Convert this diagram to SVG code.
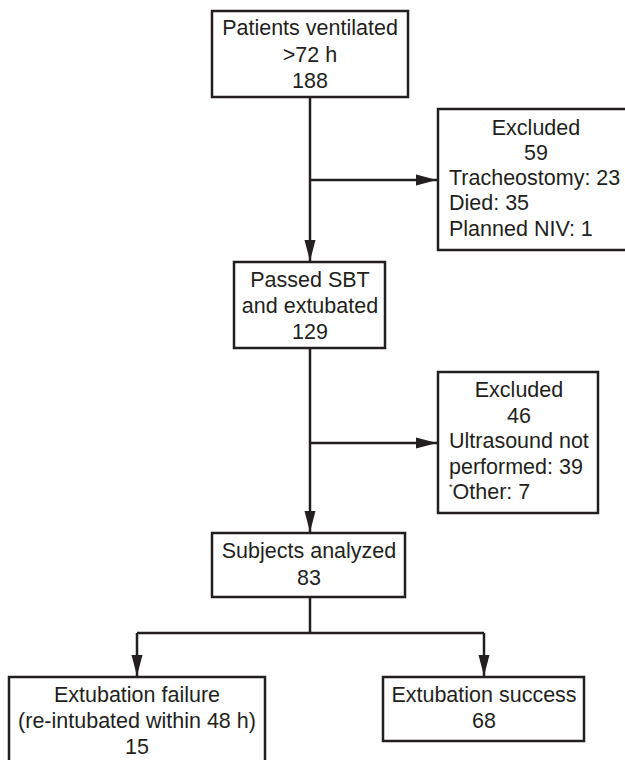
<svg xmlns="http://www.w3.org/2000/svg" width="625" height="760" viewBox="0 0 625 760">
<style>
.box{fill:#fff;stroke:#231f20;stroke-width:2.5}
.ln{fill:none;stroke:#231f20;stroke-width:2.5}
text{font-family:"Liberation Sans",Arial,sans-serif;font-size:21.5px;fill:#231f20}
.c{text-anchor:middle}
.sup{font-size:9px}
</style>
<defs>
<marker id="ah" markerUnits="userSpaceOnUse" markerWidth="22" markerHeight="12" viewBox="0 0 22 12" refX="21" refY="6" orient="auto">
<polygon points="0,0.5 21,6 0,11.5" fill="#231f20"/>
</marker>
</defs>
<rect width="625" height="760" fill="#fff"/>
<g id="connectors">
<line class="ln" x1="310" y1="97" x2="310" y2="261" marker-end="url(#ah)"/>
<line class="ln" x1="310" y1="180" x2="437" y2="180" marker-end="url(#ah)"/>
<line class="ln" x1="310" y1="348" x2="310" y2="532" marker-end="url(#ah)"/>
<line class="ln" x1="310" y1="443" x2="437" y2="443" marker-end="url(#ah)"/>
<polyline class="ln" points="310,597 310,633"/>
<polyline class="ln" points="137,633 484,633"/>
<line class="ln" x1="137" y1="633" x2="137" y2="676" marker-end="url(#ah)"/>
<line class="ln" x1="484" y1="633" x2="484" y2="676" marker-end="url(#ah)"/>
</g>
<g id="n-start">
<rect class="box" x="212" y="11" width="196" height="86"/>
<text class="c" x="310" y="35">Patients ventilated</text>
<text class="c" x="310" y="62">&gt;72 h</text>
<text class="c" x="310" y="88">188</text>
</g>
<g id="n-excluded1">
<rect class="box" x="438" y="109" width="196" height="141"/>
<text class="c" x="536" y="135">Excluded</text>
<text class="c" x="536" y="160">59</text>
<text x="449" y="185">Tracheostomy: 23</text>
<text x="449" y="210">Died: 35</text>
<text x="449" y="236">Planned NIV: 1</text>
</g>
<g id="n-passed">
<rect class="box" x="234" y="262" width="151" height="86"/>
<text class="c" x="310" y="287">Passed SBT</text>
<text class="c" x="310" y="313">and extubated</text>
<text class="c" x="310" y="339">129</text>
</g>
<g id="n-excluded2">
<rect class="box" x="438" y="372" width="160" height="141"/>
<text class="c" x="519" y="397">Excluded</text>
<text class="c" x="519" y="423">46</text>
<text x="449" y="448">Ultrasound not</text>
<text x="449" y="474">performed: 39</text>
<text x="449" y="499"><tspan class="sup" dy="-9">*</tspan><tspan dy="9">Other: 7</tspan></text>
</g>
<g id="n-analyzed">
<rect class="box" x="212" y="533" width="193" height="64"/>
<text class="c" x="309" y="558">Subjects analyzed</text>
<text class="c" x="309" y="585">83</text>
</g>
<g id="n-failure">
<rect class="box" x="9" y="677" width="256" height="95"/>
<text class="c" x="137" y="702">Extubation failure</text>
<text class="c" x="137" y="728">(re-intubated within 48 h)</text>
<text class="c" x="137" y="754">15</text>
</g>
<g id="n-success">
<rect class="box" x="383" y="677" width="201" height="64"/>
<text class="c" x="484" y="702">Extubation success</text>
<text class="c" x="484" y="728">68</text>
</g>
</svg>
